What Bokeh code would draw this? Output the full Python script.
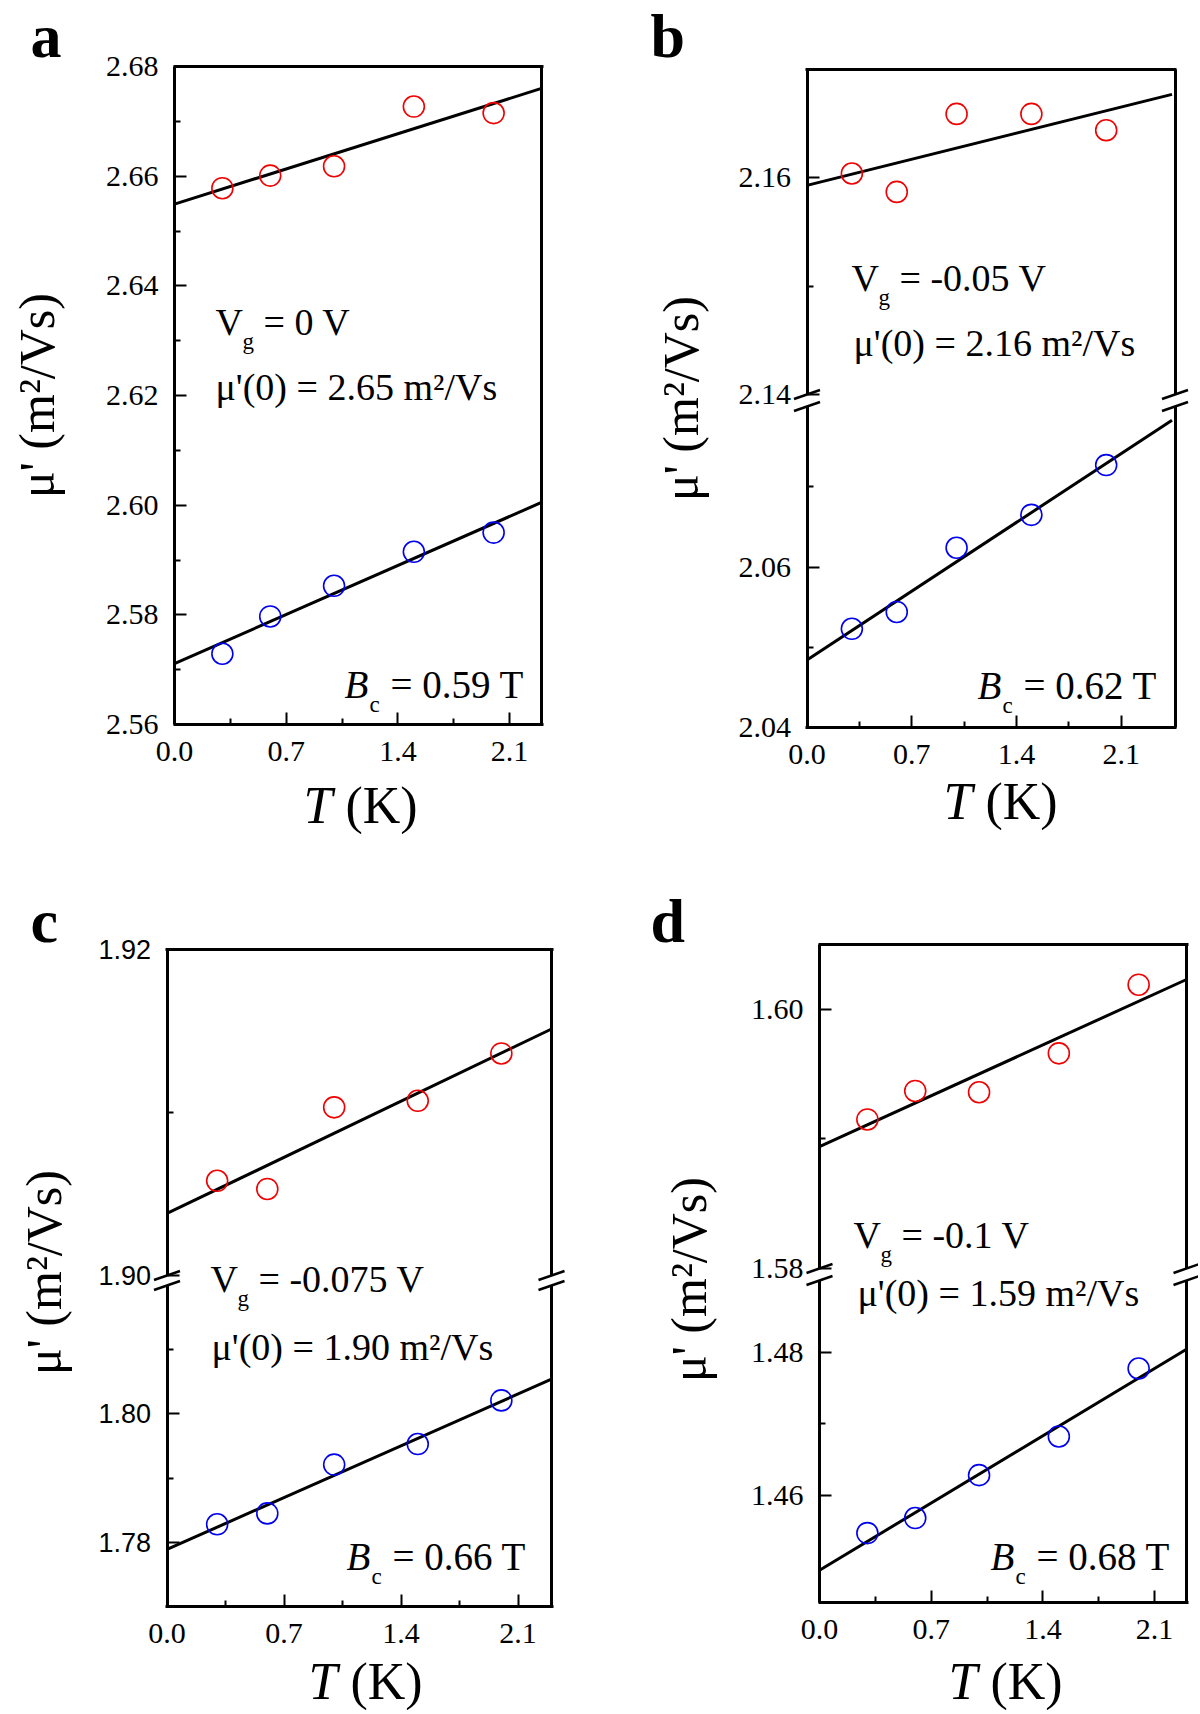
import math
from bokeh.plotting import figure
from bokeh.models import (Range1d, LinearAxis, FixedTicker, PrintfTickFormatter,
                          Label, Arrow)
from bokeh.layouts import column, row
from bokeh.embed import file_html
from bokeh.resources import INLINE

SERIF = "Liberation Serif"
SANS = "Liberation Sans"
RED = "#f00000"
BLUE = "#0000f0"

# ---------------- data ----------------
T = [0.3, 0.6, 1.0, 1.5, 2.0]
x_major = [0.0, 0.7, 1.4, 2.1]
x_minor = [0.35, 1.05, 1.75]

# panel a
a_red = [2.6578, 2.6601, 2.6618, 2.6727, 2.6715]
a_blue = [2.5729, 2.5797, 2.5853, 2.5915, 2.5950]
a_fit_T = [0.0, 2.3]
a_fit_red = [2.6549, 2.6760]
a_fit_blue = [2.5711, 2.6005]
a_y_major = [2.56, 2.58, 2.60, 2.62, 2.64, 2.66, 2.68]
a_y_minor = [2.57, 2.59, 2.61, 2.63, 2.65, 2.67]

# panel b
b_red = [2.1604, 2.1587, 2.1659, 2.1659, 2.1644]
b_blue = [2.0523, 2.0544, 2.0624, 2.0665, 2.0727]
b_fit_T = [0.0, 2.44]
b_fit_red = [2.1593, 2.1677]
b_fit_blue = [2.0484, 2.0783]
b_up_major = [2.14, 2.16]
b_up_minor = [2.15]
b_low_major = [2.04, 2.06]
b_low_minor = [2.05, 2.07]

# panel c
c_red = [1.9058, 1.9053, 1.9103, 1.9107, 1.9136]
c_blue = [1.7828, 1.7845, 1.7921, 1.7953, 1.8021]
c_fit_T = [0.0, 2.3]
c_fit_red = [1.9038, 1.9151]
c_fit_blue = [1.7789, 1.8054]
c_up_major = [1.90, 1.92]
c_up_minor = [1.91]
c_low_major = [1.78, 1.80]
c_low_minor = [1.79, 1.81]

# panel d
d_red = [1.5915, 1.5937, 1.5936, 1.5966, 1.6019]
d_blue = [1.4547, 1.4568, 1.4628, 1.4682, 1.4777]
d_fit_T = [0.0, 2.3]
d_fit_red = [1.5894, 1.6023]
d_fit_blue = [1.4495, 1.4804]
d_up_major = [1.58, 1.60]
d_up_minor = [1.59]
d_low_major = [1.46, 1.48]
d_low_minor = [1.47]

# ---------------- layout (page pixels) ----------------
PANELS = [
    dict(letter="a", px=0, py=0, w=600, h=857, box=(174, 541, 66, 724),
         xr=(0.0, 2.3), yr=(2.56, 2.68), major=a_y_major, minor=a_y_minor,
         red=a_red, blue=a_blue, fit_T=a_fit_T, fit_red=a_fit_red, fit_blue=a_fit_blue,
         letter_pos=(30, 54), ylab=(53, 395), xlab=(360, 821),
         vg=(215, 333), vg_text="= 0 V", mu=(215, 398), mu_text="μ'(0) = 2.65 m²/Vs",
         bc=(344, 696), bc_text="= 0.59 T"),
    dict(letter="b", px=600, py=0, w=598, h=857, box=(806.5, 1174.5, 69, 727),
         xr=(0.0, 2.46), low=(2.04, 2.08), low_top=406, up=(2.14, 2.17), up_bot=394,
         low_major=b_low_major, low_minor=b_low_minor, up_major=b_up_major, up_minor=b_up_minor,
         red=b_red, blue=b_blue, fit_T=b_fit_T, fit_red=b_fit_red, fit_blue=b_fit_blue,
         letter_pos=(650, 54), ylab=(697, 398), xlab=(1000, 817),
         vg=(851, 289), vg_text="= -0.05 V", mu=(853, 354), mu_text="μ'(0) = 2.16 m²/Vs",
         bc=(977, 697), bc_text="= 0.62 T"),
    dict(letter="c", px=0, py=857, w=600, h=855, box=(166.5, 551, 948.5, 1606),
         xr=(0.0, 2.3), low=(1.77, 1.82), low_top=1285, up=(1.90, 1.92), up_bot=1275,
         low_major=c_low_major, low_minor=c_low_minor, up_major=c_up_major, up_minor=c_up_minor,
         yfont=(SANS, "27px"),
         red=c_red, blue=c_blue, fit_T=c_fit_T, fit_red=c_fit_red, fit_blue=c_fit_blue,
         letter_pos=(30, 939), ylab=(60, 1272), xlab=(365, 1697),
         vg=(210, 1290), vg_text="= -0.075 V", mu=(211, 1358), mu_text="μ'(0) = 1.90 m²/Vs",
         bc=(346, 1568), bc_text="= 0.66 T"),
    dict(letter="d", px=600, py=857, w=598, h=855, box=(819, 1186, 944, 1602),
         xr=(0.0, 2.3), low=(1.445, 1.49), low_top=1280, up=(1.58, 1.605), up_bot=1268,
         low_major=d_low_major, low_minor=d_low_minor, up_major=d_up_major, up_minor=d_up_minor,
         red=d_red, blue=d_blue, fit_T=d_fit_T, fit_red=d_fit_red, fit_blue=d_fit_blue,
         letter_pos=(650, 939), ylab=(705, 1279), xlab=(1005, 1697),
         vg=(853, 1246), vg_text="= -0.1 V", mu=(857, 1304), mu_text="μ'(0) = 1.59 m²/Vs",
         bc=(990, 1568), bc_text="= 0.68 T"),
]

AXW = 3
BASE_SHIFT = 0.3   # renderer places alphabetic baseline ~0.3 em lower; compensate


def style_axis(ax, font=SERIF, size="30px", standoff=16):
    ax.axis_line_width = AXW
    ax.axis_line_color = "black"
    ax.major_tick_in = 12
    ax.major_tick_out = 0
    ax.minor_tick_in = 6
    ax.minor_tick_out = 0
    ax.major_tick_line_width = 2
    ax.minor_tick_line_width = 2
    ax.major_tick_line_color = "black"
    ax.minor_tick_line_color = "black"
    ax.major_label_text_font = font
    ax.major_label_text_font_size = size
    ax.major_label_text_color = "black"
    ax.major_label_standoff = standoff


def plain_axis(ax):
    ax.axis_line_width = AXW
    ax.axis_line_color = "black"
    ax.major_tick_in = 0
    ax.major_tick_out = 0
    ax.minor_tick_in = 0
    ax.minor_tick_out = 0
    ax.major_label_text_font_size = "0px"
    ax.major_label_standoff = 0


def build(s):
    W, H = s["w"], s["h"]
    px0, py0 = s["px"], s["py"]
    L, R, TOP, B = s["box"]
    x0, x1 = s["xr"]
    kx = (x1 - x0) / (R - L)
    xr = Range1d(x0 - (L - px0) * kx, x1 + (px0 + W - R) * kx)
    broken = "up" in s
    if broken:
        y0, y1 = s["low"]
        ky = (y1 - y0) / (B - s["low_top"])
        u0, u1 = s["up"]
        ku = (u1 - u0) / (s["up_bot"] - TOP)
        up_rng = Range1d(u1 - (py0 + H - TOP) * ku, u1 + (TOP - py0) * ku)
    else:
        y0, y1 = s["yr"]
        ky = (y1 - y0) / (B - TOP)
    yr = Range1d(y0 - (py0 + H - B) * ky, y0 + (B - py0) * ky)

    def X(px):
        return x0 + (px - L) * kx

    def Y(py):
        return y0 + (B - py) * ky

    p = figure(width=W, height=H, x_range=xr, y_range=yr,
               x_axis_type=None, y_axis_type=None, output_backend="svg",
               toolbar_location=None, min_border_left=0, min_border_right=0,
               min_border_top=0, min_border_bottom=0, outline_line_color=None,
               background_fill_color="white", border_fill_color="white")
    if broken:
        p.extra_y_ranges = {"up": up_rng}

    yfont, ysize = s.get("yfont", (SERIF, "30px"))

    # vertical axes (one per y segment), placed at the box edges
    if broken:
        segs = [("default", s["low"], s["low_major"], s["low_minor"]),
                ("up", s["up"], s["up_major"], s["up_minor"])]
    else:
        segs = [("default", s["yr"], s["major"], s["minor"])]
    for name, (lo, hi), maj, mnr in segs:
        ax = LinearAxis(y_range_name=name, ticker=FixedTicker(ticks=maj, minor_ticks=mnr),
                        formatter=PrintfTickFormatter(format="%.2f"),
                        bounds=(lo, hi), fixed_location=x0)
        style_axis(ax, yfont, ysize, 16)
        p.add_layout(ax, "left")
        axr = LinearAxis(y_range_name=name, ticker=FixedTicker(ticks=[], minor_ticks=[]),
                         bounds=(lo, hi), fixed_location=x1)
        plain_axis(axr)
        p.add_layout(axr, "right")

    # horizontal axes
    d = AXW / 2 * kx
    bx = LinearAxis(ticker=FixedTicker(ticks=x_major, minor_ticks=x_minor),
                    formatter=PrintfTickFormatter(format="%.1f"),
                    bounds=(x0 - d, x1 + d), fixed_location=Y(B))
    style_axis(bx, SERIF, "30px", 17)
    p.add_layout(bx, "below")
    tx = LinearAxis(ticker=FixedTicker(ticks=[], minor_ticks=[]),
                    bounds=(x0 - d, x1 + d), fixed_location=Y(TOP))
    plain_axis(tx)
    p.add_layout(tx, "above")

    # data
    kw_up = {"y_range_name": "up"} if broken else {}
    p.line(s["fit_T"], s["fit_red"], line_color="black", line_width=3, **kw_up)
    p.scatter(T, s["red"], marker="circle", size=21, fill_color=None,
              line_color=RED, line_width=1.6, **kw_up)
    p.line(s["fit_T"], s["fit_blue"], line_color="black", line_width=3)
    p.scatter(T, s["blue"], marker="circle", size=21, fill_color=None,
              line_color=BLUE, line_width=1.6)

    # axis-break marks
    if broken:
        for cx in (L, R):
            for cy in (s["up_bot"], s["low_top"]):
                p.add_layout(Arrow(start=None, end=None,
                                   x_start=X(cx - 13), y_start=Y(cy + 4.5),
                                   x_end=X(cx + 13), y_end=Y(cy - 4.5),
                                   line_width=2.5, line_color="black"))

    def lab(px, py, text, size, style="normal", font=SERIF, align="left", rotated=False):
        if rotated:
            px = px - 0.34 * size
            angle = math.pi / 2
        else:
            py = py - BASE_SHIFT * size
            angle = 0.0
        p.add_layout(Label(x=X(px), y=Y(py), text=text, text_font=font,
                           text_font_size=f"{size}px", text_font_style=style,
                           text_align=align, text_baseline="alphabetic",
                           angle=angle, text_color="black"))

    lx, ly = s["letter_pos"]
    lab(lx, ly, s["letter"], 62, "bold")
    yx, yy = s["ylab"]
    lab(yx, yy, "μ' (m²/Vs)", 50, align="center", rotated=True)
    xc, xbase = s["xlab"]
    lab(xc - 57, xbase, "T", 52, "italic")
    lab(xc - 15, xbase, "(K)", 52)
    vx, vy = s["vg"]
    lab(vx, vy, "V", 38)
    lab(vx + 27, vy + 15, "g", 23)
    lab(vx + 48, vy, s["vg_text"], 38)
    mx, my = s["mu"]
    lab(mx, my, s["mu_text"], 38)
    bcx, bcy = s["bc"]
    lab(bcx, bcy, "B", 39, "italic")
    lab(bcx + 25, bcy + 15, "c", 23)
    lab(bcx + 46, bcy, s["bc_text"], 39)
    return p


figs = [build(s) for s in PANELS]
layout = column(row(figs[0], figs[1]), row(figs[2], figs[3]))

open("out.html", "w").write(file_html(layout, INLINE))
